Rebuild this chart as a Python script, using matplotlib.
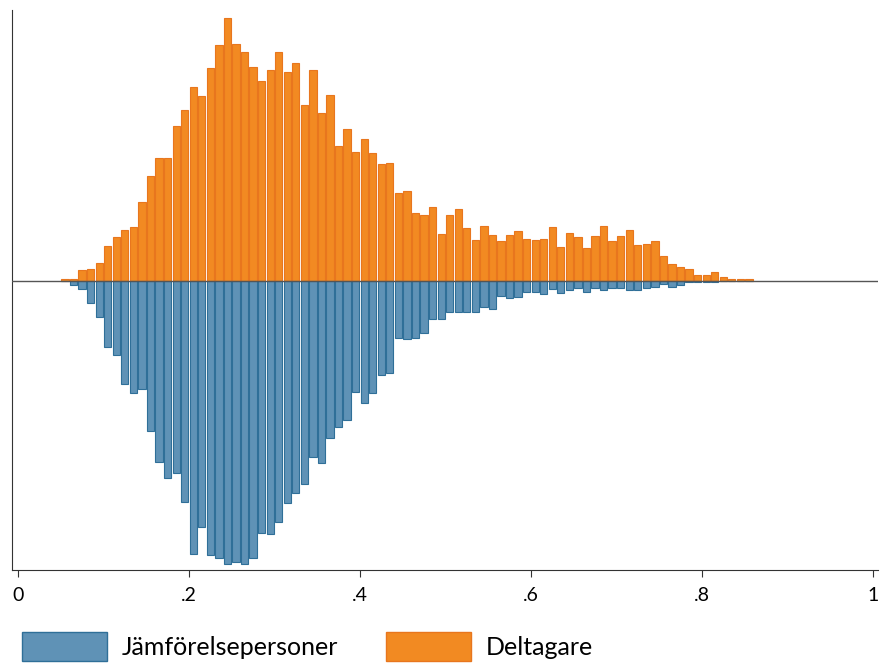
import matplotlib
matplotlib.use("Agg")
import matplotlib.pyplot as plt
import numpy as np
from matplotlib.patches import Patch

centers = [round(0.055 + 0.01*i, 3) for i in range(81)]
deltagare = [2,2,11,12,18,35,44,51,54,79,105,123,123,155,171,194,185,213,236,263,
             237,229,214,200,211,229,209,218,176,211,168,186,135,152,129,142,128,117,118,88,
             90,68,66,74,47,66,72,53,41,55,46,40,46,50,42,41,42,54,34,48,
             44,33,45,55,40,45,51,36,37,40,25,17,14,12,6,6,9,4,2,2,2]
jamfor = [0,4,8,22,36,66,74,103,112,108,150,181,197,192,221,273,246,274,277,283,
          281,283,277,252,253,241,222,212,203,176,182,157,146,139,111,122,112,94,92,57,
          58,57,52,38,38,31,31,31,31,26,28,15,17,16,11,11,13,8,12,9,
          7,11,7,9,7,7,9,9,7,6,3,6,4,1,1,1,1,0,0,0,0]
xticks = [0, 0.2, 0.4, 0.6, 0.8, 1]
xticklabels = ["0", ".2", ".4", ".6", ".8", "1"]

plt.rcParams['font.family'] = ['Lato', 'DejaVu Sans']
fig = plt.figure(figsize=(8.8, 6.65), dpi=100)
ax = fig.add_axes([12/880, 95/665, 866/880, 560/665])
ax.bar(centers, deltagare, width=0.0085, color='#f28a22', edgecolor='#e8761e', linewidth=0.8, zorder=2)
ax.bar(centers, [-v for v in jamfor], width=0.0085, color='#5f92b6', edgecolor='#2f6f98', linewidth=0.8, zorder=2)
ax.axhline(0, color='#555555', lw=1, zorder=3)
ax.set_xlim(-0.007, 1.006)
ax.set_ylim(-289, 271)
ax.set_xticks(xticks)
ax.set_xticklabels(xticklabels, fontsize=14)
ax.set_yticks([])
ax.tick_params(axis='x', length=5, color='#333333', pad=7)
for s in ['top', 'right']:
    ax.spines[s].set_visible(False)
ax.spines['left'].set_color('#333333')
ax.spines['bottom'].set_color('#333333')
handles = [Patch(facecolor='#5f92b6', edgecolor='#2f6f98'), Patch(facecolor='#f28a22', edgecolor='#e8761e')]
fig.legend(handles, ['Jämförelsepersoner', 'Deltagare'], loc='lower left', bbox_to_anchor=(22/880, 4/665),
           borderaxespad=0, borderpad=0, ncol=2, frameon=False, fontsize=18, handlelength=3.4,
           handleheight=1.4, handletextpad=0.6, columnspacing=1.9)
fig.savefig('out.png', dpi=100)
